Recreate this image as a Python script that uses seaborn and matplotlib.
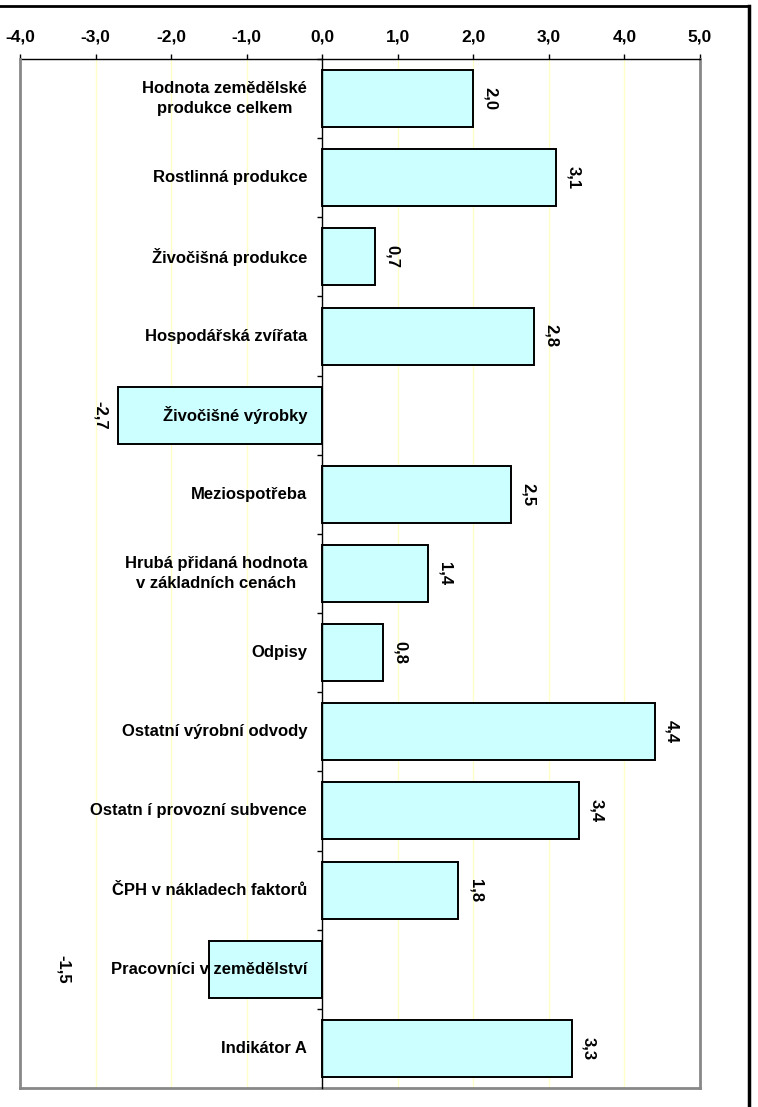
import numpy as np
import pandas as pd
import matplotlib
matplotlib.use("Agg")
import matplotlib.pyplot as plt
from matplotlib.lines import Line2D
import seaborn as sns

categories = [
    "Hodnota zemědělské\nprodukce celkem",
    "Rostlinná produkce",
    "Živočišná produkce",
    "Hospodářská zvířata",
    "Živočišné výrobky",
    "Meziospotřeba",
    "Hrubá přidaná hodnota\nv základních cenách",
    "Odpisy",
    "Ostatní výrobní odvody",
    "Ostatn í provozní subvence",
    "ČPH v nákladech faktorů",
    "Pracovníci v zemědělství",
    "Indikátor A",
]
values = [2.0, 3.1, 0.7, 2.8, -2.7, 2.5, 1.4, 0.8, 4.4, 3.4, 1.8, -1.5, 3.3]
x_ticks = [-4.0, -3.0, -2.0, -1.0, 0.0, 1.0, 2.0, 3.0, 4.0, 5.0]


def fmt(v):
    return f"{v:.1f}".replace(".", ",")


def main():
    plt.rcParams["font.family"] = ["Liberation Sans", "DejaVu Sans"]
    plt.rcParams["font.weight"] = "bold"
    plt.rcParams["font.size"] = 12

    df = pd.DataFrame({"kategorie": categories, "hodnota": values})

    fig = plt.figure(figsize=(7.58, 11.07), dpi=100)
    ax = fig.add_axes([20 / 758, 1 - 1088 / 1107, 680 / 758, 1029 / 1107])

    sns.barplot(data=df, x="hodnota", y="kategorie", orient="h", color="#ccffff",
                saturation=1, edgecolor="black", linewidth=1.4, width=0.72, ax=ax)
    ax.set_xlim(x_ticks[0], x_ticks[-1])
    ax.set_ylim(len(categories) - 0.5, -0.5)

    # pale yellow vertical grid
    for t in x_ticks[1:-1]:
        if t != 0:
            ax.axvline(t, color="#ffffc8", lw=1, zorder=0)

    # x axis on top
    ax.xaxis.tick_top()
    ax.set_xticks(x_ticks)
    ax.set_xticklabels([fmt(t) for t in x_ticks], fontweight="bold")
    ax.tick_params(axis="x", direction="out", length=3.6, width=1, pad=6.5, labelsize=12.5)
    ax.set_xlabel("")
    ax.set_ylabel("")

    # category axis sits on zero
    ax.spines["left"].set_position(("data", 0))
    ax.spines["left"].set_color("black")
    ax.spines["left"].set_linewidth(1)
    ax.spines["left"].set_zorder(5)
    ax.set_yticks(np.arange(-0.5, len(categories), 1))
    ax.set_yticklabels([])
    ax.tick_params(axis="y", direction="out", length=3.6, width=1)

    ax.spines["top"].set_color("black")
    ax.spines["top"].set_linewidth(1)
    for s in ["right", "bottom"]:
        ax.spines[s].set_color("#888888")
        ax.spines[s].set_linewidth(2)
    ax.axvline(x_ticks[0], color="#888888", lw=2, clip_on=False, zorder=4)

    # category labels left of zero
    for i, name in enumerate(categories):
        ax.text(-0.2, i, name, ha="right", va="center", multialignment="center",
                linespacing=1.45, fontsize=12, fontweight="bold", zorder=6)

    # value labels, rotated
    for i, v in enumerate(values):
        if v >= 0:
            xpos = v + 0.23
        elif v > -2:
            xpos = -3.43
        else:
            xpos = v - 0.24
        ax.text(xpos, i, fmt(v), ha="center", va="center", rotation=270,
                fontsize=12, fontweight="bold", zorder=6)

    # outer frame lines (top and right)
    fig.add_artist(Line2D([0, 749 / 758], [1 - 6 / 1107, 1 - 6 / 1107],
                          transform=fig.transFigure, color="black", lw=2))
    fig.add_artist(Line2D([749 / 758, 749 / 758], [0, 1 - 6 / 1107],
                          transform=fig.transFigure, color="black", lw=2.5))

    fig.savefig("out.png", dpi=100)


if __name__ == "__main__":
    main()
